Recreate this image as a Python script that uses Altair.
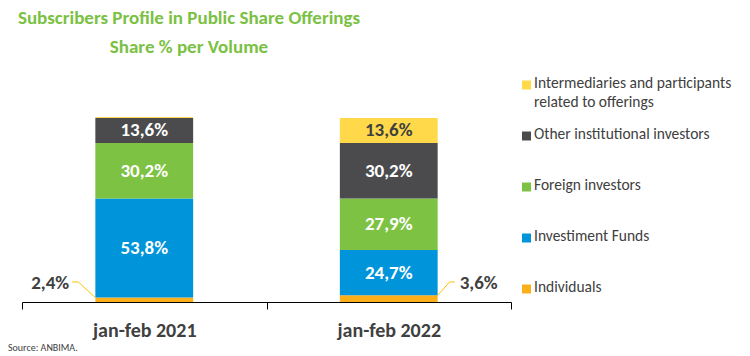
import altair as alt
import pandas as pd

FONT = "Carlito, Calibri, Lato"
DARK = "#404040"

years = ["jan-feb 2021", "jan-feb 2022"]
series = [
    "Individuals",
    "Investiment Funds",
    "Foreign investors",
    "Other institutional investors",
    "Intermediaries and participants related to offerings",
]
legend_text = [
    "Individuals",
    "Investiment Funds",
    "Foreign investors",
    "Other institutional investors",
    "Intermediaries and participants\nrelated to offerings",
]
individuals = [2.4, 3.6]
funds = [53.8, 24.7]
foreign = [30.2, 27.9]
other_inst = [13.6, 30.2]
intermediaries = [0.5, 13.6]
colors = ["#FBB01B", "#0095DA", "#7DC242", "#4B4B4D", "#FFD94A"]

values_by_series = [individuals, funds, foreign, other_inst, intermediaries]

# layout constants
YMAX = 131.5
W, H = 489, 242

rows = []
for yi, yr in enumerate(years):
    base = 0.0
    for si, s in enumerate(series):
        v = values_by_series[si][yi]
        lab = f"{v:.1f}".replace(".", ",") + "%"
        rows.append({
            "year": yr, "series": s, "value": v, "y0": base, "y1": base + v,
            "mid": base + v / 2, "label": lab if (v >= 5) else "",
            "tcolor": DARK if s == series[4] else "white",
        })
        base += v
df = pd.DataFrame(rows)

color_scale = alt.Scale(domain=series, range=colors)

bars = alt.Chart(df).mark_bar(width=alt.RelativeBandSize(0.4)).encode(
    x=alt.X("year:N", sort=years,
            scale=alt.Scale(paddingInner=0, paddingOuter=0),
            axis=alt.Axis(title=None, labelAngle=0, tickBand="extent",
                          domainColor="black", tickColor="black", tickSize=7,
                          labelFontSize=20, labelFont=FONT, labelFontWeight="bold",
                          labelColor=DARK, labelPadding=11, grid=False)),
    y=alt.Y("y0:Q", scale=alt.Scale(domain=[0, YMAX], nice=False, zero=True), axis=None),
    y2="y1:Q",
    color=alt.Color("series:N", scale=color_scale, legend=None),
)

inside = alt.Chart(df).mark_text(font=FONT, fontSize=19, fontWeight="bold",
                                 baseline="middle").encode(
    x=alt.X("year:N", sort=years),
    y=alt.Y("mid:Q"),
    text="label:N",
    fill=alt.Fill("tcolor:N", scale=None),
)

main = alt.layer(bars, inside)

# legend
leg_df = pd.DataFrame({"series": series, "text": legend_text})
leg_order = list(reversed(series))
leg_y = alt.Y("series:N", scale=alt.Scale(domain=leg_order, range=[25, 229], padding=0),
              axis=None)
leg_sq = alt.Chart(leg_df).mark_square(size=81, opacity=1).encode(
    x=alt.value(504.5), y=leg_y,
    color=alt.Color("series:N", scale=color_scale, legend=None),
)
leg_txt = alt.Chart(leg_df).mark_text(font=FONT, fontSize=15.5, align="left",
                                      baseline="top", dy=-9, lineBreak="\n",
                                      lineHeight=19, color=DARK).encode(
    x=alt.value(512), y=leg_y, text="text:N",
)
legend = alt.layer(leg_sq, leg_txt)

# leader lines for the Individuals values
lead_rows = []
label_rows = []
for yi, yr in enumerate(years):
    if yi == 0:
        edge = 0.3
        pts = [(edge, individuals[yi]), (edge - 0.07, 10.9), (edge - 0.095, 10.9)]
        lx = edge - 0.107
    else:
        edge = 1.7
        pts = [(edge, individuals[yi]), (edge + 0.049, 10.9), (edge + 0.07, 10.9)]
        lx = edge + 0.09
    for pi, (px, py) in enumerate(pts):
        lead_rows.append({"year": yr, "pt": pi, "lx": px, "ly": py})
    label_rows.append({"year": yr, "lx": lx, "ly": 10.5,
                       "label": f"{individuals[yi]:.1f}".replace(".", ",") + "%"})
lead_df = pd.DataFrame(lead_rows)
lab_df = pd.DataFrame(label_rows)

qx = alt.X("lx:Q", scale=alt.Scale(domain=[0, 2], nice=False, zero=False), axis=None)
qy = alt.Y("ly:Q", scale=alt.Scale(domain=[0, YMAX], nice=False), axis=None)

leaders = alt.Chart(lead_df).mark_line(color="#FFC000", strokeWidth=1).encode(
    x=qx, y=qy, detail="year:N", order="pt:O")
lab_left = alt.Chart(lab_df[lab_df.year == years[0]]).mark_text(
    font=FONT, fontSize=19, fontWeight="bold", align="right", baseline="middle",
    color=DARK).encode(x=qx, y=qy, text="label:N")
lab_right = alt.Chart(lab_df[lab_df.year == years[1]]).mark_text(
    font=FONT, fontSize=19, fontWeight="bold", align="left", baseline="middle",
    color=DARK).encode(x=qx, y=qy, text="label:N")
source = alt.Chart(pd.DataFrame({"t": ["Source: ANBIMA."]})).mark_text(
    font=FONT, fontSize=10, align="left", baseline="middle", color=DARK).encode(
    x=alt.value(-14), y=alt.value(288), text="t:N")
annot = alt.layer(leaders, lab_left, lab_right, source)

chart = alt.layer(main, legend, annot).resolve_scale(
    x="independent", y="independent"
).properties(
    width=W, height=H,
    padding={"left": 22, "top": 60, "right": 239, "bottom": 54},
    autosize=alt.AutoSizeParams(type="none"),
    title=alt.TitleParams(
        text=["Subscribers Profile in Public Share Offerings", "Share % per Volume"],
        anchor="start", align="center", dx=167, fontSize=19, font=FONT,
        fontWeight="bold", color="#7AC143", lineHeight=29, offset=3, frame="group",
    ),
).configure_view(stroke=None)

chart.save("out.html", embed_options={"renderer": "svg", "actions": False})
